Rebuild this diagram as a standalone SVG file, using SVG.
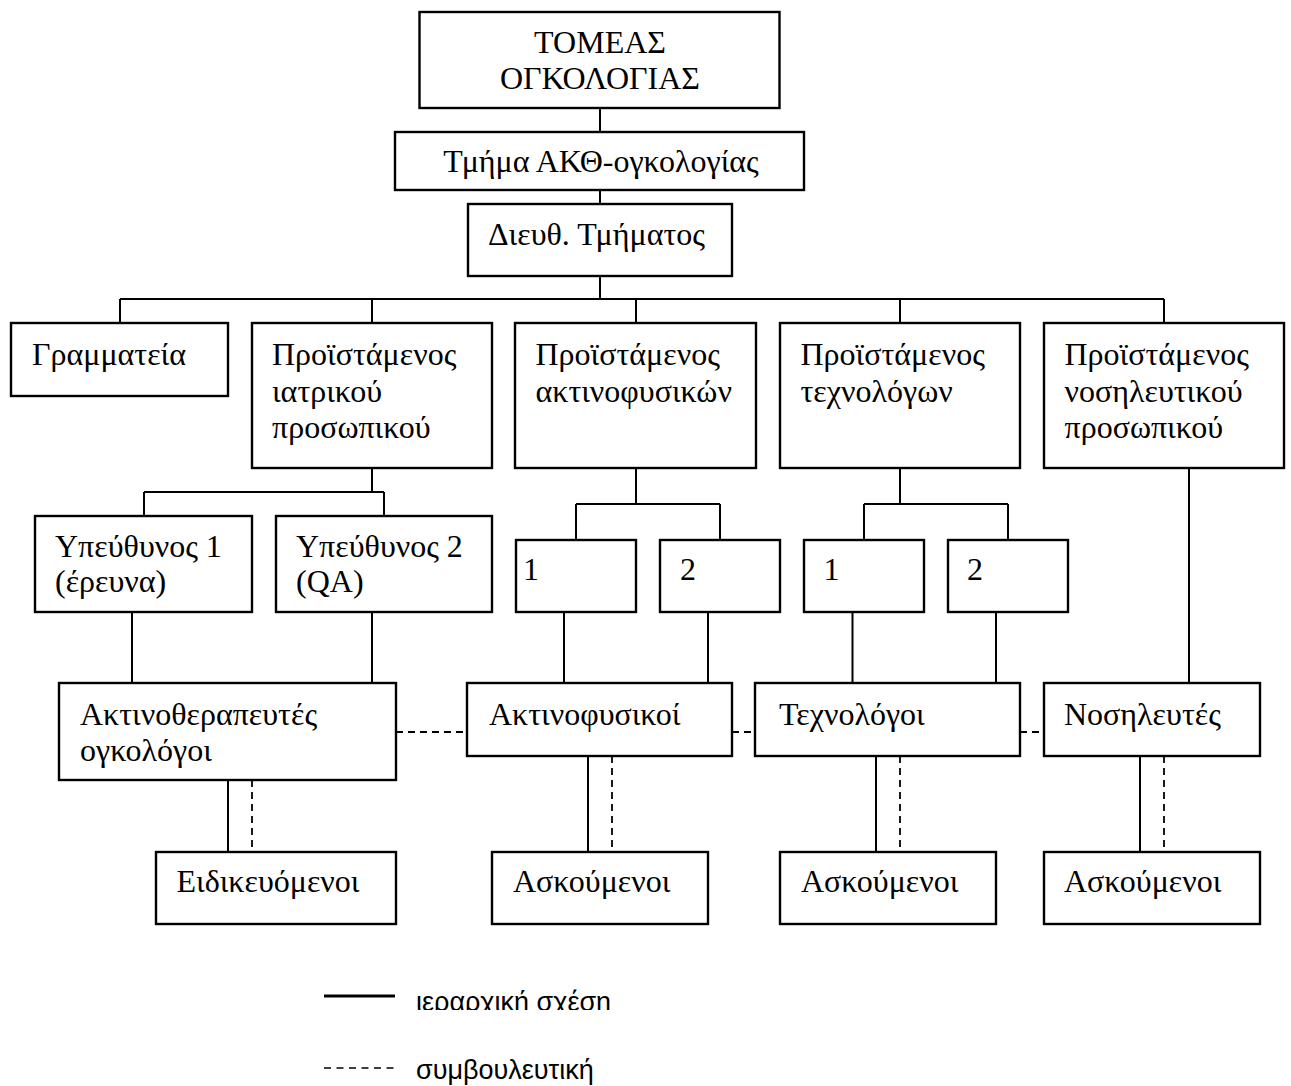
<svg xmlns="http://www.w3.org/2000/svg" width="1291" height="1086" viewBox="0 0 1291 1086">
<style>
.box{fill:#fff;stroke:#000;stroke-width:2.4}
.t{font-family:"Liberation Serif","Times New Roman",serif;font-size:32px;fill:#000}
.c{text-anchor:middle}
.ln{stroke:#000;stroke-width:2;fill:none}
.dl{stroke:#000;stroke-width:1.8;stroke-dasharray:7 5;fill:none}
.lg{font-family:"Liberation Sans",Arial,sans-serif;font-size:27px;fill:#000}
</style>
<defs>
<clipPath id="clipLeg1"><rect x="400" y="960" width="300" height="50"/></clipPath>
</defs>
<rect width="1291" height="1086" fill="#fff"/>
<g id="connectors">
<path class="ln" d="M600 108V132M600 190V204M600 276V299M120 299H1164M120 299V323M372 299V323M636 299V323M900 299V323M1164 299V323"/>
<path class="ln" d="M372 468V492M144 492H384M144 492V516M384 492V516"/>
<path class="ln" d="M636 468V504M576 504H720M576 504V540M720 504V540"/>
<path class="ln" d="M900 468V504M864 504H1008M864 504V540M1008 504V540"/>
<path class="ln" d="M1189 468V683"/>
<path class="ln" d="M132 612V683M372 612V683M564 612V683M708 612V683M852.5 612V683M996 612V683"/>
<path class="ln" d="M228 780V852M588 756V852M876 756V852M1140 756V852"/>
<path class="dl" d="M252 780V852M612 756V852M900 756V852M1164 756V852"/>
<path class="dl" d="M396 732H467M732 732H755M1020 732H1044"/>
</g>
<g id="n-tomeas"><rect class="box" x="419.5" y="12" width="360" height="96"/><text class="t c" x="600" y="53">ΤΟΜΕΑΣ</text><text class="t c" x="600" y="89">ΟΓΚΟΛΟΓΙΑΣ</text></g>
<g id="n-tmima"><rect class="box" x="395" y="132" width="409" height="58"/><text class="t c" x="601" y="172">Τμήμα ΑΚΘ-ογκολογίας</text></g>
<g id="n-dieuth"><rect class="box" x="468" y="204" width="264" height="72"/><text class="t" x="488" y="245">Διευθ. Τμήματος</text></g>
<g id="n-grammateia"><rect class="box" x="11" y="323" width="217" height="73"/><text class="t" x="32" y="365">Γραμματεία</text></g>
<g id="n-iatrikou"><rect class="box" x="252" y="323" width="240" height="145"/><text class="t" x="272" y="365">Προϊστάμενος</text><text class="t" x="272" y="401.5">ιατρικού</text><text class="t" x="272" y="437.5">προσωπικού</text></g>
<g id="n-aktinofysikon"><rect class="box" x="515" y="323" width="241" height="145"/><text class="t" x="535.5" y="365">Προϊστάμενος</text><text class="t" x="535.5" y="401.5">ακτινοφυσικών</text></g>
<g id="n-technologon"><rect class="box" x="780" y="323" width="240" height="145"/><text class="t" x="800.5" y="365">Προϊστάμενος</text><text class="t" x="800.5" y="401.5">τεχνολόγων</text></g>
<g id="n-nosileftikou"><rect class="box" x="1044" y="323" width="240" height="145"/><text class="t" x="1064.5" y="365">Προϊστάμενος</text><text class="t" x="1064.5" y="401.5">νοσηλευτικού</text><text class="t" x="1064.5" y="437.5">προσωπικού</text></g>
<g id="n-ypeuth1"><rect class="box" x="35" y="516" width="217" height="96"/><text class="t" x="55" y="556.5">Υπεύθυνος 1</text><text class="t" x="55" y="591.5">(έρευνα)</text></g>
<g id="n-ypeuth2"><rect class="box" x="276" y="516" width="216" height="96"/><text class="t" x="296" y="556.5">Υπεύθυνος 2</text><text class="t" x="296" y="591.5">(QA)</text></g>
<g id="n-a1"><rect class="box" x="516" y="540" width="120" height="72"/><text class="t" x="523" y="580">1</text></g>
<g id="n-a2"><rect class="box" x="660" y="540" width="120" height="72"/><text class="t" x="680" y="580">2</text></g>
<g id="n-t1"><rect class="box" x="804" y="540" width="120" height="72"/><text class="t" x="823.5" y="580">1</text></g>
<g id="n-t2"><rect class="box" x="948" y="540" width="120" height="72"/><text class="t" x="967" y="580">2</text></g>
<g id="n-aktinotherapeutes"><rect class="box" x="59" y="683" width="337" height="97"/><text class="t" x="80" y="725">Ακτινοθεραπευτές</text><text class="t" x="80" y="760.5">ογκολόγοι</text></g>
<g id="n-aktinofysikoi"><rect class="box" x="467" y="683" width="265" height="73"/><text class="t" x="489" y="725">Ακτινοφυσικοί</text></g>
<g id="n-texnologoi"><rect class="box" x="755" y="683" width="265" height="73"/><text class="t" x="779" y="725">Τεχνολόγοι</text></g>
<g id="n-nosileftes"><rect class="box" x="1044" y="683" width="216" height="73"/><text class="t" x="1064" y="725">Νοσηλευτές</text></g>
<g id="n-eidikevomenoi"><rect class="box" x="156" y="852" width="240" height="72"/><text class="t" x="176.5" y="892">Ειδικευόμενοι</text></g>
<g id="n-askoum1"><rect class="box" x="492" y="852" width="216" height="72"/><text class="t" x="513" y="892">Ασκούμενοι</text></g>
<g id="n-askoum2"><rect class="box" x="780" y="852" width="216" height="72"/><text class="t" x="801" y="892">Ασκούμενοι</text></g>
<g id="n-askoum3"><rect class="box" x="1044" y="852" width="216" height="72"/><text class="t" x="1064" y="892">Ασκούμενοι</text></g>
<g id="legend">
<path d="M324 996H395" stroke="#000" stroke-width="3"/>
<text class="lg" x="416" y="1011" clip-path="url(#clipLeg1)">ιεραρχική σχέση</text>
<path d="M324 1068H395" stroke="#000" stroke-width="1.3" stroke-dasharray="7 5.5"/>
<text class="lg" x="416" y="1079">συμβουλευτική</text>
</g>
</svg>
